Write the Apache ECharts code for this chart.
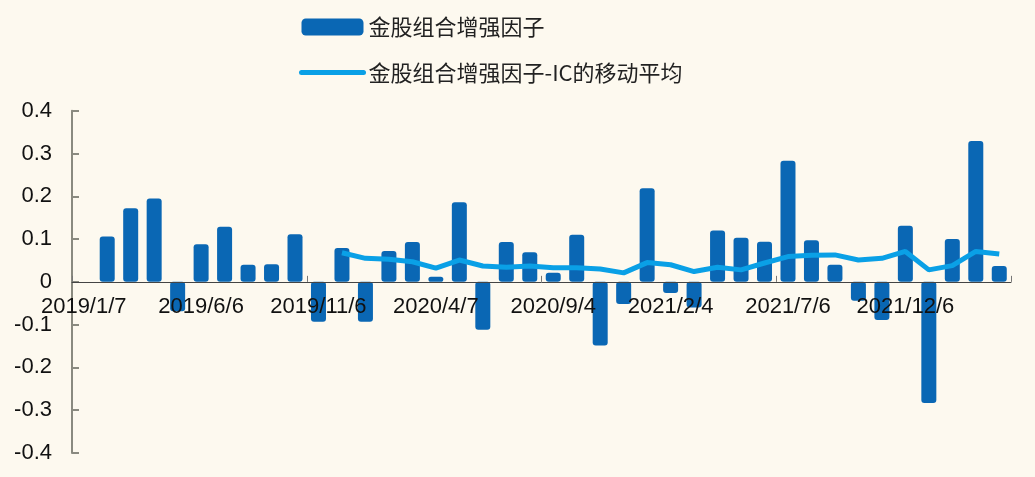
<!DOCTYPE html>
<html>
<head>
<meta charset="utf-8">
<script src="https://cdn.jsdelivr.net/npm/echarts@6/dist/echarts.min.js"></script>
<style>
html,body{margin:0;padding:0;background:#fdf9ef;}
#c{width:1035px;height:477px;}
</style>
</head>
<body>
<div id="c"></div>
<script>
const categories = [
  "2019/1/7","2019/2/1","2019/3/1","2019/4/1","2019/5/6","2019/6/6","2019/7/1","2019/8/1","2019/9/2","2019/10/8",
  "2019/11/6","2019/12/2","2020/1/2","2020/2/3","2020/3/2","2020/4/7","2020/5/6","2020/6/1","2020/7/1","2020/8/3",
  "2020/9/4","2020/10/9","2020/11/2","2020/12/1","2021/1/4","2021/2/4","2021/3/1","2021/4/1","2021/5/6","2021/6/1",
  "2021/7/6","2021/8/2","2021/9/1","2021/10/8","2021/11/1","2021/12/6","2022/1/4","2022/2/7","2022/3/1","2022/4/1"
];
const factorIC = [
  null, 0.106, 0.172, 0.195, -0.069, 0.088, 0.129, 0.040, 0.041, 0.111,
  -0.093, 0.079, -0.093, 0.072, 0.093, 0.012, 0.186, -0.112, 0.093, 0.069,
  0.021, 0.110, -0.149, -0.052, 0.219, -0.026, -0.060, 0.120, 0.103, 0.094,
  0.283, 0.097, 0.040, -0.044, -0.089, 0.131, -0.283, 0.100, 0.329, 0.037
];
const movingAvg = [
  null, null, null, null, null, null, null, null, null, null,
  null, 0.068, 0.055, 0.053, 0.047, 0.032, 0.051, 0.037, 0.034, 0.037,
  0.033, 0.033, 0.030, 0.021, 0.045, 0.040, 0.024, 0.034, 0.028, 0.044,
  0.059, 0.062, 0.063, 0.051, 0.055, 0.071, 0.028, 0.038, 0.071, 0.065
];
const yTicks = { min: -0.4, max: 0.4, interval: 0.1 };

const GRID_TOP = 110.7, GRID_BOTTOM = 24, H = 477;
const plotH = H - GRID_TOP - GRID_BOTTOM;
// move the category axis up to the value-axis zero line
const zeroOffset = -plotH * (0 - yTicks.min) / (yTicks.max - yTicks.min);

const chart = echarts.init(document.getElementById('c'), null, {renderer: 'canvas'});
chart.setOption({
  backgroundColor: '#fdf9ef',
  animation: false,
  textStyle: { fontFamily: 'Liberation Sans, Noto Sans CJK SC, sans-serif' },
  legend: {
    orient: 'vertical',
    left: 299,
    top: 16,
    padding: 0,
    itemWidth: 62,
    itemHeight: 17,
    itemGap: 23.5,
    textStyle: { fontSize: 22, color: '#222', fontFamily: 'Noto Sans CJK SC, Liberation Sans, sans-serif' },
    data: [
      { name: '金股组合增强因子', icon: 'roundRect' },
      { name: '金股组合增强因子-IC的移动平均', itemStyle: { opacity: 0 }, lineStyle: { width: 5, cap: 'round', color: '#0aa0e6' } }
    ]
  },
  grid: { left: 72, right: 24, top: GRID_TOP, bottom: GRID_BOTTOM, containLabel: false },
  xAxis: {
    type: 'category',
    data: categories,
    boundaryGap: true,
    position: 'bottom',
    offset: zeroOffset,
    z: 10,
    axisLine: { onZero: false, lineStyle: { color: '#444', width: 1 } },
    axisTick: { show: true, inside: true, length: 6, interval: 9, lineStyle: { color: '#777' } },
    axisLabel: { interval: 4, fontSize: 22, color: '#111', margin: 14 },
    splitLine: { show: false }
  },
  yAxis: {
    type: 'value',
    min: yTicks.min,
    max: yTicks.max,
    interval: yTicks.interval,
    axisLine: { show: true, lineStyle: { color: '#8a8a80', width: 2 } },
    axisTick: { show: true, inside: true, length: 7, lineStyle: { color: '#8a8a80', width: 2 } },
    axisLabel: {
      fontSize: 22, color: '#111', margin: 20,
      formatter: v => { const r = Math.round(v * 10) / 10; return r === 0 ? '0' : String(r); }
    },
    splitLine: { show: false }
  },
  series: [
    {
      name: '金股组合增强因子',
      type: 'bar',
      data: factorIC,
      barWidth: 15,
      z: 2,
      itemStyle: { color: '#0a67b4', borderRadius: 3 }
    },
    {
      name: '金股组合增强因子-IC的移动平均',
      type: 'line',
      data: movingAvg,
      showSymbol: false,
      symbol: 'none',
      z: 3,
      lineStyle: { color: '#0aa0e6', width: 5 },
      itemStyle: { color: '#0aa0e6' }
    }
  ]
});
</script>
</body>
</html>
